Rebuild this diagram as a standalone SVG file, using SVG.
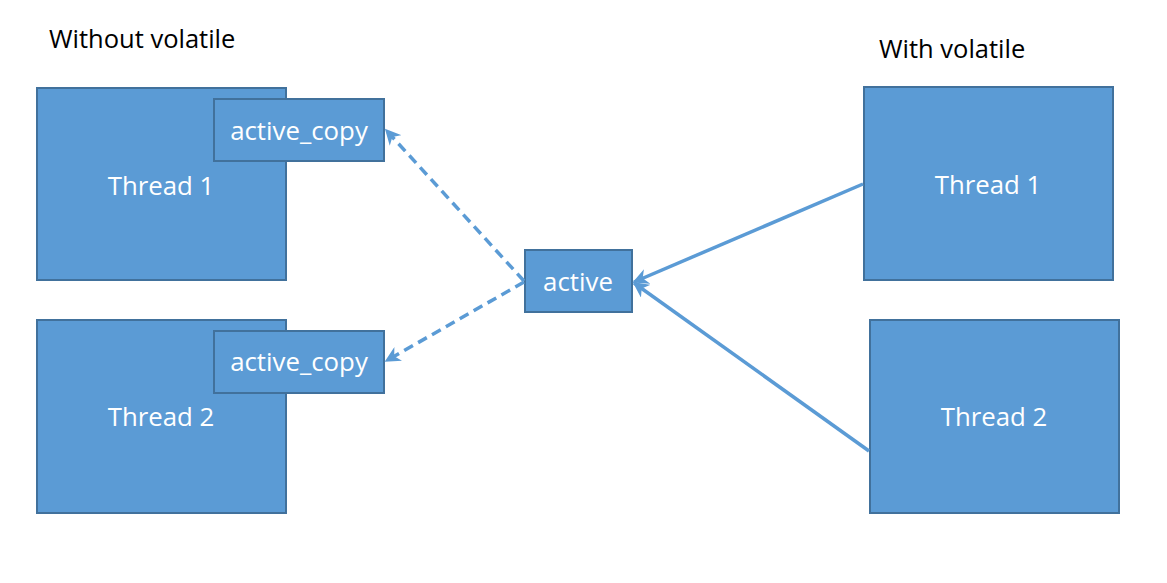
<svg xmlns="http://www.w3.org/2000/svg" width="1167" height="583" viewBox="0 0 1167 583">
  <style>
    .box { fill: #5B9BD5; stroke: #41719C; stroke-width: 2; }
    .lbl { font-family: "Open Sans", "Liberation Sans", sans-serif; font-size: 25.8px; fill: #FFFFFF; text-anchor: middle; }
    .title { font-family: "Open Sans", "Liberation Sans", sans-serif; font-size: 25.5px; fill: #000000; }
    .link { fill: none; stroke: #5B9BD5; stroke-width: 3.5; }
    .dash { stroke-dasharray: 10 6; }
  </style>
  <defs>
    <marker id="arrow" viewBox="0 0 10 10" refX="9" refY="5" markerWidth="4.5" markerHeight="4.5" orient="auto" markerUnits="strokeWidth">
      <path d="M0,0 L10,5 L0,10 L3,5 Z" fill="#5B9BD5"/>
    </marker>
  </defs>
  <rect width="1167" height="583" fill="#FFFFFF"/>

  <text class="title" x="49" y="48">Without volatile</text>
  <text class="title" x="879" y="58">With volatile</text>

  <g id="left-thread1">
    <rect class="box" x="37" y="88" width="249" height="192"/>
    <text class="lbl" x="161" y="195">Thread 1</text>
  </g>
  <g id="left-copy1">
    <rect class="box" x="214" y="99" width="170" height="62"/>
    <text class="lbl" x="299" y="140">active_copy</text>
  </g>
  <g id="left-thread2">
    <rect class="box" x="37" y="320" width="249" height="193"/>
    <text class="lbl" x="161" y="426">Thread 2</text>
  </g>
  <g id="left-copy2">
    <rect class="box" x="214" y="331" width="170" height="62"/>
    <text class="lbl" x="299" y="371">active_copy</text>
  </g>
  <g id="active">
    <rect class="box" x="525" y="250" width="107" height="62"/>
    <text class="lbl" x="578" y="291">active</text>
  </g>
  <g id="right-thread1">
    <rect class="box" x="864" y="87" width="249" height="193"/>
    <text class="lbl" x="988" y="194">Thread 1</text>
  </g>
  <g id="right-thread2">
    <rect class="box" x="870" y="320" width="249" height="193"/>
    <text class="lbl" x="994" y="426">Thread 2</text>
  </g>

  <g id="connectors">
    <line class="link dash" x1="524" y1="281" x2="386" y2="130" marker-end="url(#arrow)"/>
    <line class="link dash" x1="524" y1="282" x2="386" y2="361" marker-end="url(#arrow)"/>
    <line class="link" x1="863" y1="184" x2="634" y2="282" marker-end="url(#arrow)"/>
    <line class="link" x1="869" y1="451" x2="634" y2="283" marker-end="url(#arrow)"/>
  </g>
</svg>
